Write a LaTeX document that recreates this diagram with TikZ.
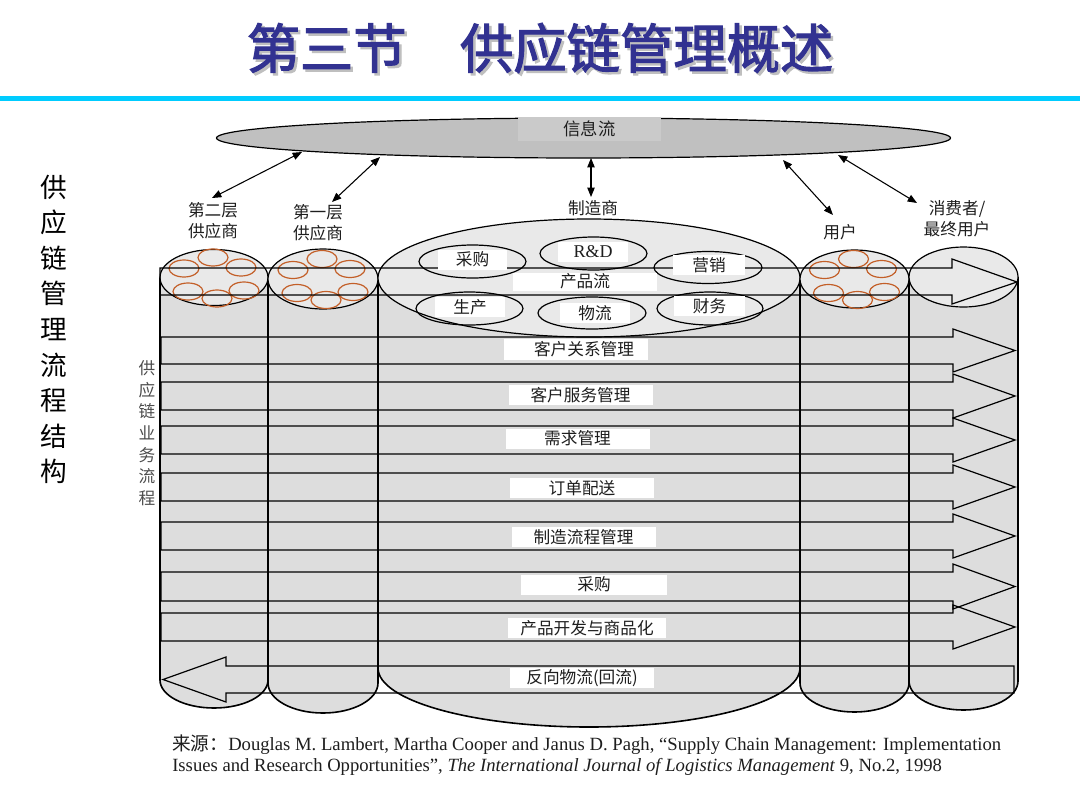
\documentclass[tikz,border=0pt]{standalone}
\usepackage{fontspec}
\setmainfont{Liberation Serif}
\newfontfamily\cjk{Noto Sans CJK SC}
\newfontfamily\cjktitle[FakeBold=2.2]{Noto Sans CJK SC}
\usetikzlibrary{arrows.meta}
\definecolor{titleblue}{RGB}{50,50,145}
\definecolor{cyanline}{RGB}{0,204,255}
\definecolor{infogray}{RGB}{192,192,192}
\definecolor{infobox}{RGB}{202,202,202}
\definecolor{bodygray}{RGB}{221,221,221}
\definecolor{topgray}{RGB}{233,233,233}
\definecolor{ringorange}{RGB}{195,95,40}
\definecolor{txt}{RGB}{30,30,30}
\begin{document}
\begin{tikzpicture}[x=0.75pt,y=-0.75pt,
  outl/.style={draw=black,line width=0.9pt,line join=miter},
  coledge/.style={draw=black,line width=1.2pt},
  ring/.style={draw=ringorange,line width=0.9pt},
  lab/.style={font=\cjk\fontsize{12.5}{15.75}\selectfont,text=txt,align=center,inner sep=0pt},
  wbox/.style={fill=white,inner sep=0pt,minimum height=15pt,font=\cjk\fontsize{12.5}{14}\selectfont,text=txt},
  link/.style={line width=0.8pt,{Triangle[length=7pt,width=5.5pt]}-{Triangle[length=7pt,width=5.5pt]}},
  bigv/.style={font=\cjk\fontsize{20}{20}\selectfont,text=black,inner sep=0pt},
  smallv/.style={font=\cjk\fontsize{12.5}{12.5}\selectfont,text=black!70,inner sep=0pt},
  src/.style={anchor=west,font=\fontsize{14}{16}\selectfont,text=txt,inner sep=0pt}
]
\fill[white] (0,0) rectangle (1080,810);
\useasboundingbox (0,0) rectangle (1080,810);
% title with its shadow
\node[font=\cjktitle\fontsize{40}{44}\selectfont,text=black!25] (titleshadow) at (542.5,50.5) {第三节　供应链管理概述};
\node[font=\cjktitle\fontsize{40}{44}\selectfont,text=titleblue] (title) at (540,48) {第三节　供应链管理概述};
\fill[cyanline] (0,96) rectangle (1080,101);
% information flow
\draw[line width=0.9pt,fill=infogray] (583.5,138) ellipse[x radius=367,y radius=20];
\node[fill=infobox,minimum width=107pt,minimum height=18pt,inner sep=0pt,font=\cjk\fontsize{13}{15}\selectfont,text=txt] (info) at (589.5,129) {信息流};
% cylinders: bodies
\foreach \xa/\xb/\ct/\rt/\cb/\rb in {160/268/277.5/28/680/28, 268/378/279/30/683/30, 378/800/278/59/668/59, 800/909/279/29/683/29, 909/1018/277/30/681/29}{
  \pgfmathsetmacro\rx{(\xb-\xa)/2}
  \fill[bodygray] (\xa,\ct) -- (\xa,\cb) arc[start angle=180,end angle=0,x radius=\rx,y radius=\rb] -- (\xb,\ct) -- cycle;
}
\foreach \xa/\xb/\ct/\rt/\cb/\rb in {160/268/277.5/28/680/28, 268/378/279/30/683/30, 378/800/278/59/668/59, 800/909/279/29/683/29, 909/1018/277/30/681/29}{
  \pgfmathsetmacro\rx{(\xb-\xa)/2}
  \draw[coledge] (\xa,\ct) -- (\xa,\cb) arc[start angle=180,end angle=0,x radius=\rx,y radius=\rb] -- (\xb,\ct);
}
\foreach \xa/\xb/\ct/\rt in {160/268/277.5/28, 268/378/279/30, 378/800/278/59, 800/909/279/29, 909/1018/277/30}{
  \pgfmathsetmacro\rx{(\xb-\xa)/2}
  \pgfmathsetmacro\cx{(\xa+\xb)/2}
  \draw[outl,fill=topgray] (\cx,\ct) ellipse[x radius=\rx,y radius=\rt];
}
% member rings
\foreach \cx/\cy in {214/277.5, 323/279, 854.5/279}
  \foreach \dx/\dy in {-1/-20, -30/-9, 27/-10, -26/14, 3/21, 30/13}
    \draw[ring] (\cx+\dx,\cy+\dy) ellipse[x radius=15,y radius=8.5];
% functions inside manufacturer
\foreach \x/\y/\a/\b in {472.5/261.5/53.5/16.5, 593.5/253.5/53.5/16.5, 708/267.5/54/16, 469.5/308.5/53.5/16.5, 592/313/54/16, 710/308.5/53/16.5}
  \draw[outl] (\x,\y) ellipse[x radius=\a,y radius=\b];
% product flow arrow
\draw[outl] (160,268) -- (952,268) -- (952,259) -- (1017,282) -- (952,304) -- (952,295) -- (160,295) -- cycle;
% process arrows
\foreach \t/\b in {337/364, 382/410, 426/454, 473/501, 522/550, 572/601, 613/641}
  \draw[outl] (161,\t) -- (953,\t) -- (953,\t-8) -- (1015,{(\t+\b)/2}) -- (953,\b+8) -- (953,\b) -- (161,\b) -- cycle;
% reverse logistics arrow
\draw[outl] (1014,666) -- (226,666) -- (226,657) -- (163,679.5) -- (226,702) -- (226,693) -- (1014,693) -- cycle;
% function labels
\node[wbox,minimum width=51.75pt] (fcg) at (472.5,259.5) {采购};
\node[wbox,minimum width=52.5pt,font=\fontsize{13.5}{15}\selectfont] (frd) at (593,252) {R\&D};
\node[wbox,minimum width=54pt] (fyx) at (709,265) {营销};
\node[wbox,minimum width=52.5pt] (fsc) at (470,307) {生产};
\node[wbox,minimum width=52.5pt] (fwl) at (595,313) {物流};
\node[wbox,minimum width=53.25pt] (fcw) at (709.5,306) {财务};
% flow labels
\node[wbox,minimum width=108pt,minimum height=13.5pt] (pf) at (585,281.5) {产品流};
\node[wbox,minimum width=108pt,minimum height=16pt] (p1) at (576,349.5) {\hspace*{12pt}客户关系管理};
\node[wbox,minimum width=108pt] (p2) at (580.5,395) {客户服务管理};
\node[wbox,minimum width=108pt] (p3) at (577.5,438.5) {需求管理};
\node[wbox,minimum width=108pt] (p4) at (582,488) {订单配送};
\node[wbox,minimum width=108pt] (p5) at (583.5,537) {制造流程管理};
\node[wbox,minimum width=109pt] (p6) at (594,584.5) {采购};
\node[wbox,minimum width=118pt] (p7) at (587,628) {产品开发与商品化};
\node[wbox,minimum width=108pt] (p8) at (582,678) {反向物流(回流)};
% member labels
\node[lab] (l2) at (213,220.5) {第二层\\供应商};
\node[lab] (l1) at (318,222.5) {第一层\\供应商};
\node[lab] (lm) at (593,208) {制造商};
\node[lab] (lu) at (840,232) {用户};
\node[lab] (lc) at (957,219) {消费者/\\最终用户};
% links to information flow
\coordinate (i1) at (302,152); \coordinate (s2) at (212,198);
\coordinate (i2) at (380,157); \coordinate (s1) at (332,202);
\coordinate (i3) at (591,158); \coordinate (mf) at (591,197);
\coordinate (i4) at (783,160); \coordinate (us) at (833,215);
\coordinate (i5) at (838,155); \coordinate (cs) at (917,203);
\draw[link] (i1) -- (s2);
\draw[link] (i2) -- (s1);
\draw[link] (i3) -- (mf);
\draw[link] (i4) -- (us);
\draw[link] (i5) -- (cs);
% vertical texts
\foreach \ch [count=\i from 0] in {供,应,链,管,理,流,程,结,构}
  \node[bigv] (v\i) at (54,{187+35.6*\i}) {\ch};
\foreach \ch [count=\i from 0] in {供,应,链,业,务,流,程}
  \node[smallv] (w\i) at (147,{368+21.7*\i}) {\ch};
% source
\node[src] (src1) at (172,745) {{\cjk 来源：}Douglas M. Lambert, Martha Cooper and Janus D. Pagh, “Supply Chain Management: Implementation};
\node[src] (src2) at (172,767) {Issues and Research Opportunities”, \textit{The International Journal of Logistics Management} 9, No.2, 1998};
\end{tikzpicture}
\end{document}
